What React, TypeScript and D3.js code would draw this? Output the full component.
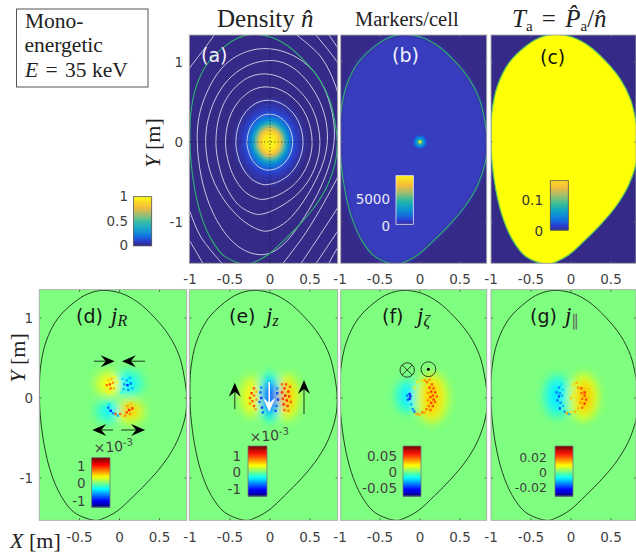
import React from "react";
import * as d3 from "d3";

// ---------- data (metres / normalised values) ----------
const separatrix: number[][] = [
  [-0.2125, 1.345], [0.017, 1.31], [0.225, 1.2], [0.433, 1.01], [0.62, 0.78], [0.745, 0.53], [0.81, 0.26], [0.84, 0],
  [0.82, -0.24], [0.72, -0.54], [0.565, -0.8], [0.39, -1.01], [0.183, -1.22], [-0.025, -1.41], [-0.19, -1.5], [-0.296, -1.53],
  [-0.566, -1.43], [-0.733, -1.22], [-0.858, -0.93], [-0.94, -0.596], [-0.99, -0.22], [-1.0, 0.03], [-0.99, 0.36],
  [-0.92, 0.7], [-0.775, 0.99], [-0.566, 1.196], [-0.4, 1.3],
];
const innerRingScales = [0.29, 0.43, 0.56, 0.68];
const ring5: number[][] = [
  [0, 1.03], [-0.2375, 0.99], [-0.4875, 0.84], [-0.675, 0.59], [-0.79, 0.27], [-0.815, -0.02], [-0.77, -0.354],
  [-0.62, -0.6875], [-0.3625, -0.99], [-0.1125, -1.12], [0, -1.12], [0.22, -1.01], [0.43, -0.74], [0.625, -0.396],
  [0.73, -0.0625], [0.715, 0.27], [0.6, 0.59], [0.3875, 0.87], [0.18, 1.0],
];
const ring6: number[][] = [
  [0, 1.19], [-0.32, 1.145], [-0.62, 0.95], [-0.81, 0.6], [-0.9, 0.31], [-0.92, 0.02], [-0.875, -0.4375],
  [-0.73, -0.9], [-0.49, -1.26], [-0.2375, -1.41], [0, -1.42], [0.22, -1.25], [0.43, -0.95], [0.65, -0.5625],
  [0.78, -0.1875], [0.82, 0.104], [0.775, 0.4375], [0.625, 0.83], [0.346, 1.08],
];
const outerArcs: number[][][] = [
  [[0.304, 1.36], [0.6375, 1.0625], [0.825, 0.6875], [0.87, 0.48]],
  [[0.554, 1.36], [0.825, 1.02], [0.88, 0.9]],
  [[0.72, 1.36], [0.825, 1.21], [0.88, 1.12]],
  [[0.1375, -1.55], [0.47, -1.1], [0.825, -0.48], [0.88, -0.36]],
  [[0.367, -1.55], [0.6, -1.2], [0.825, -0.854], [0.88, -0.76]],
  [[0.554, -1.55], [0.825, -1.146], [0.88, -1.06]],
  [[0.72, -1.55], [0.825, -1.354], [0.88, -1.28]],
  [[-1.03, -0.8], [-1.008, -0.854], [-0.8625, -1.19], [-0.57, -1.55]],
  [[-1.03, -1.2], [-1.008, -1.23], [-0.82, -1.55]],
  [[-1.03, 0.87], [-1.008, 0.917], [-0.82, 1.167], [-0.68, 1.36]],
];
const densityRadii = [0.46, 0.38, 0.33, 0.285, 0.25, 0.215, 0.185, 0.16, 0.135, 0.105, 0.07];
const densityValues = [0.03, 0.07, 0.12, 0.19, 0.27, 0.4, 0.56, 0.72, 0.85, 0.93, 0.98];
const markerRadii = [0.085, 0.065, 0.048, 0.033, 0.022, 0.012];
const markerValues = [0.06, 0.14, 0.26, 0.42, 0.65, 1];

type Lobe = number[]; // x, y, rx, ry, value
const lobesD: Lobe[] = [
  [-0.12, 0.18, 0.2, 0.17, 0.13], [0.11, 0.19, 0.2, 0.17, -0.13], [-0.12, -0.17, 0.19, 0.15, -0.14], [0.13, -0.17, 0.19, 0.16, 0.16],
  [-0.11, 0.17, 0.12, 0.11, 0.25], [0.1, 0.18, 0.11, 0.11, -0.26], [-0.11, -0.16, 0.11, 0.08, -0.27], [0.13, -0.15, 0.1, 0.09, 0.36],
];
const speckD: number[][] = [
  [-0.14, 0.22, 0.45], [-0.1, 0.24, 0.5], [-0.06, 0.26, 0.35], [-0.16, 0.16, 0.7], [-0.12, 0.17, 0.85], [-0.08, 0.19, 0.6], [-0.11, 0.12, 0.7],
  [-0.07, 0.12, 0.5], [-0.03, 0.2, 0.3], [-0.13, 0.07, 0.35], [0.04, 0.24, -0.4], [0.09, 0.22, -0.55], [0.13, 0.25, -0.5], [0.06, 0.17, -0.6],
  [0.1, 0.16, -0.9], [0.14, 0.18, -0.7], [0.05, 0.11, -0.5], [0.11, 0.1, -0.6], [0.16, 0.12, -0.5], [0.03, 0.07, -0.3], [-0.14, -0.12, -0.75],
  [-0.11, -0.16, -0.95], [-0.08, -0.19, -0.6], [-0.05, -0.2, 0.8], [-0.02, -0.22, -0.5], [0.01, -0.2, 0.7], [0.04, -0.23, 0.4], [-0.13, -0.08, -0.4],
  [0.09, -0.18, 0.8], [0.12, -0.15, 0.9], [0.16, -0.13, 0.85], [0.1, -0.1, 0.55], [0.14, -0.07, 0.45], [0.07, -0.22, 0.6], [0.13, -0.2, 0.6], [0.18, -0.19, 0.4],
];
const lobesE: Lobe[] = [
  [-0.23, 0.02, 0.16, 0.26, 0.15], [0.21, 0.01, 0.17, 0.29, 0.18], [0, 0.01, 0.15, 0.31, -0.2], [-0.22, 0.01, 0.07, 0.17, 0.27],
  [0.2, 0.01, 0.09, 0.2, 0.36], [0, 0.01, 0.09, 0.23, -0.42], [0, 0.01, 0.055, 0.18, -0.68],
];
const speckE: number[][] = [
  [-0.2, 0.12, 0.8], [-0.23, 0.06, 0.85], [-0.2, 0.03, 0.7], [-0.25, 0, 0.8], [-0.22, -0.04, 0.75], [-0.25, -0.07, 0.6], [-0.2, -0.1, 0.8], [-0.17, 0.08, 0.5],
  [-0.17, -0.02, 0.6], [-0.18, -0.14, 0.55], [-0.12, 0.07, -0.75], [-0.11, 0, -0.85], [-0.13, -0.05, -0.7], [-0.1, -0.12, -0.85], [-0.09, -0.18, -0.7],
  [0.09, 0.06, -0.8], [0.1, -0.02, -0.85], [0.08, -0.1, -0.7], [0.07, -0.16, -0.75], [-0.11, 0.13, -0.6], [0.09, 0.12, -0.6], [0.15, 0.17, 0.7], [0.2, 0.17, 0.8],
  [0.25, 0.14, 0.75], [0.18, 0.12, 0.85], [0.23, 0.08, 0.9], [0.15, 0.07, 0.9], [0.19, 0.03, 1], [0.24, 0.02, 0.85], [0.16, -0.01, 0.85], [0.21, -0.03, 0.9],
  [0.26, -0.05, 0.75], [0.17, -0.08, 0.9], [0.22, -0.1, 0.85], [0.18, -0.15, 0.75], [0.23, -0.16, 0.65],
];
const lobesF: Lobe[] = [
  [-0.15, 0.02, 0.17, 0.22, -0.14], [0.15, 0, 0.21, 0.32, 0.17], [-0.15, 0.02, 0.09, 0.15, -0.28], [0.15, 0, 0.11, 0.25, 0.33],
];
const speckF: number[][] = [
  [-0.13, 0.05, -1], [-0.12, 0.02, -1], [-0.13, -0.01, -1], [-0.15, -0.02, -0.8], [-0.16, 0.03, -0.7], [-0.11, -0.08, -0.5], [-0.09, -0.14, -0.6], [-0.07, -0.17, -0.7],
  [-0.03, -0.2, 0.6], [0, -0.21, 0.5], [-0.05, -0.2, 0.5], [0.03, -0.18, 0.7], [0.06, 0.22, 0.6], [0.09, 0.2, 0.7], [0.12, 0.23, 0.6], [0.15, 0.17, 0.75],
  [0.12, 0.13, 0.85], [0.17, 0.12, 0.8], [0.14, 0.08, 0.85], [0.19, 0.07, 0.85], [0.16, 0.03, 0.8], [0.21, 0.02, 0.75], [0.13, 0.01, 0.8], [0.17, -0.02, 0.85],
  [0.14, -0.06, 0.85], [0.19, -0.05, 0.75], [0.11, -0.1, 0.7], [0.16, -0.1, 0.8], [0.08, -0.14, 0.7], [0.13, -0.15, 0.75], [0.06, -0.18, 0.55], [0.1, 0.06, 0.6],
  [0.1, -0.03, 0.6], [-0.07, 0.13, 0.35], [-0.03, 0.2, 0.35], [0.02, 0.22, 0.4],
];
const lobesG: Lobe[] = [
  [-0.17, 0.02, 0.18, 0.28, -0.15], [0.16, 0.01, 0.19, 0.3, 0.18], [-0.18, 0.03, 0.1, 0.18, -0.28], [0.17, 0.01, 0.1, 0.19, 0.36],
];
const speckG: number[][] = [
  [-0.15, 0.13, -0.6], [-0.12, 0.17, -0.4], [-0.18, 0.07, -0.7], [-0.14, 0.06, -0.6], [-0.15, 0.02, -0.8], [-0.11, 0.03, -0.5], [-0.17, -0.03, -0.7], [-0.13, -0.06, -0.6],
  [-0.14, -0.13, -0.8], [-0.1, -0.1, -0.5], [-0.1, 0.1, -0.4], [-0.08, -0.17, -0.6], [-0.05, -0.19, 0.6], [-0.02, -0.2, -0.5], [0, -0.18, 0.4], [0.03, 0.17, 0.4],
  [0.07, 0.19, 0.5], [0.09, 0.13, 0.6], [0.13, 0.12, 0.8], [0.17, 0.07, 0.85], [0.13, 0.06, 0.7], [0.17, 0.03, 0.8], [0.19, -0.02, 0.8], [0.14, -0.01, 0.7],
  [0.17, -0.07, 0.85], [0.12, -0.06, 0.6], [0.14, -0.12, 0.7], [0.09, -0.13, 0.5], [0.05, -0.17, 0.5], [0, 0, 0.45], [0.03, 0.03, 0.35],
];
const arrowsD: number[][] = [
  [-0.32, 0.46, -0.06, 0.46], [0.32, 0.46, 0.03, 0.46], [-0.08, -0.4, -0.34, -0.4], [0.02, -0.4, 0.32, -0.4],
];
const arrowsE: number[][] = [
  [-0.44, -0.14, -0.44, 0.19], [0.425, -0.2, 0.425, 0.225],
];
const arrowWhiteE: number[][] = [[-0.01, 0.2, -0.01, -0.175]];

const xTicks = [-1, -0.5, 0, 0.5];
const yTicks = [1, 0, -1];
const parulaColors = ["#352a87", "#2b3fd0", "#1172e0", "#0f92d2", "#11abc0", "#2fb8a0", "#79bf7c", "#c0bc60", "#f5bd3a", "#fcd52a", "#f9fb15"];
const jetColors = ["#00007f", "#0000ff", "#007fff", "#00ffff", "#7fff7f", "#ffff00", "#ff7f00", "#ff0000", "#7f0000"];

// ---------- scales ----------
const pxPerUnit = 80;
const parula = d3.scaleLinear<string>()
  .domain(parulaColors.map((_, i) => i / (parulaColors.length - 1))).range(parulaColors).interpolate(d3.interpolateRgb).clamp(true);
const jet = d3.scaleLinear<string>()
  .domain(jetColors.map((_, i) => -1 + (2 * i) / (jetColors.length - 1))).range(jetColors).interpolate(d3.interpolateRgb).clamp(true);

type Box = { id: string; l: number; r: number; t: number; b: number; cx: number; cy: number };
const mk = (id: string, l: number, r: number, t: number, b: number, cx: number, cy: number): Box => ({ id, l, r, t, b, cx, cy });
const scales = (p: Box) => ({
  x: d3.scaleLinear().domain([(p.l - p.cx) / pxPerUnit, (p.r - p.cx) / pxPerUnit]).range([p.l, p.r]),
  y: d3.scaleLinear().domain([(p.cy - p.t) / pxPerUnit, (p.cy - p.b) / pxPerUnit]).range([p.t, p.b]),
});
const A = mk("a", 189.3, 337.7, 35, 263.3, 270, 142);
const B = mk("b", 340.7, 486.7, 35, 263.3, 420, 142);
const C = mk("c", 491, 636, 35, 263.3, 571, 142);
const D = mk("d", 39.3, 186.7, 289.7, 520.3, 119.5, 398);
const E = mk("e", 189.3, 337.7, 289.7, 520.3, 270, 398);
const F = mk("f", 340.7, 486.7, 289.7, 520.3, 420, 398);
const G = mk("g", 491, 636, 289.7, 520.3, 571, 398);

const closedLine = (p: Box) => {
  const s = scales(p);
  return d3.line<number[]>().x((d) => s.x(d[0])).y((d) => s.y(d[1])).curve(d3.curveCatmullRomClosed.alpha(0.5));
};
const smoothLine = (p: Box) => {
  const s = scales(p);
  return d3.line<number[]>().x((d) => s.x(d[0])).y((d) => s.y(d[1])).curve(d3.curveBasisClosed);
};
const openLine = (p: Box) => {
  const s = scales(p);
  return d3.line<number[]>().x((d) => s.x(d[0])).y((d) => s.y(d[1])).curve(d3.curveCatmullRom.alpha(0.5));
};
const ringFromScale = (k: number) =>
  separatrix.map(([x, y]) => {
    const th = Math.atan2(y, x);
    const er = 1 / Math.hypot(Math.cos(th), Math.sin(th) / 1.2);
    const e = [er * Math.cos(th), er * Math.sin(th)];
    const w = k * k;
    return [k * (w * x + (1 - w) * e[0]), k * (w * y + (1 - w) * e[1])];
  });

const tickFill = "#3f3f3f";
const SANS = "'DejaVu Sans', sans-serif";
const SERIF = "'Liberation Serif', serif";

function Frame({ p, tickColor = "#222" }: { p: Box; tickColor?: string }) {
  const s = scales(p);
  return (
    <g stroke={tickColor} strokeWidth={0.7}>
      {xTicks.filter((v) => s.x(v) > p.l + 2).map((v) => (
        <g key={v}>
          <line x1={s.x(v)} x2={s.x(v)} y1={p.t} y2={p.t + 2} />
          <line x1={s.x(v)} x2={s.x(v)} y1={p.b} y2={p.b - 2} />
        </g>
      ))}
      {yTicks.map((v) => (
        <g key={v}>
          <line x1={p.l} x2={p.l + 2} y1={s.y(v)} y2={s.y(v)} />
          <line x1={p.r} x2={p.r - 2} y1={s.y(v)} y2={s.y(v)} />
        </g>
      ))}
      <rect x={p.l} y={p.t} width={p.r - p.l} height={p.b - p.t} fill="none" stroke="#a9a9a9" strokeWidth={0.9} />
    </g>
  );
}

function XLabels({ p, vals, y }: { p: Box; vals: number[]; y: number }) {
  const s = scales(p);
  return (
    <g fontFamily={SANS} fontSize={13.5} fill={tickFill} textAnchor="middle">
      {vals.map((v) => (
        <text key={v} x={s.x(v)} y={y}>{String(v)}</text>
      ))}
    </g>
  );
}
function YLabels({ p, x }: { p: Box; x: number }) {
  const s = scales(p);
  return (
    <g fontFamily={SANS} fontSize={13.5} fill={tickFill} textAnchor="end">
      {yTicks.map((v) => (
        <text key={v} x={x} y={s.y(v) + 5}>{String(v)}</text>
      ))}
    </g>
  );
}

function Colorbar({ x0, x1, y0, y1, scale, dom, border, labels, labelX, labelYs, fill, size = 13.5 }: any) {
  const n = 48;
  const stripe = d3.scaleBand<number>().domain(d3.range(n)).range([y1, y0]);
  const val = d3.scaleLinear().domain([0, n - 1]).range(dom);
  return (
    <g>
      {d3.range(n).map((i) => (
        <rect key={i} x={x0} y={stripe(i)!} width={x1 - x0} height={stripe.bandwidth() + 0.5} fill={scale(val(i))} />
      ))}
      <rect x={x0} y={y0} width={x1 - x0} height={y1 - y0} fill="none" stroke={border} strokeWidth={0.8} />
      <g fontFamily={SANS} fontSize={size} fill={fill} textAnchor="end">
        {labels.map((t: string, i: number) => (
          <text key={t} x={labelX} y={labelYs[i] + 5}>{t}</text>
        ))}
      </g>
    </g>
  );
}

function Arrow({ p, a, color }: { p: Box; a: number[]; color: string }) {
  const s = scales(p);
  const x1 = s.x(a[0]), y1 = s.y(a[1]), x2 = s.x(a[2]), y2 = s.y(a[3]);
  const th = Math.atan2(y2 - y1, x2 - x1);
  const len = 14, hw = 6, notch = 9;
  const pt = (f: number, w: number) => [x2 - f * Math.cos(th) - w * Math.sin(th), y2 - f * Math.sin(th) + w * Math.cos(th)].join(",");
  return (
    <g>
      <line x1={x1} y1={y1} x2={x2 - notch * Math.cos(th)} y2={y2 - notch * Math.sin(th)} stroke={color} strokeWidth={color === "#fff" ? 1.6 : 0.8} />
      <polygon points={[pt(0, 0), pt(len, hw), pt(notch, 0), pt(len, -hw)].join(" ")} fill={color} />
    </g>
  );
}

function JetField({ p, lobes, speck }: { p: Box; lobes: Lobe[]; speck: number[][] }) {
  const s = scales(p);
  const sep = closedLine(p)(separatrix)!;
  return (
    <g>
      <rect x={p.l} y={p.t} width={p.r - p.l} height={p.b - p.t} fill={jet(0)} />
      <g clipPath={`url(#clip${p.id})`}>
        <g filter="url(#blurBig)">
          {lobes.map((d, i) => (
            <ellipse key={i} cx={s.x(d[0])} cy={s.y(d[1])} rx={d[2] * pxPerUnit} ry={d[3] * pxPerUnit} fill={jet(d[4])} />
          ))}
        </g>
        <g filter="url(#blurSmall)" opacity={0.85}>
          {speck.map((d, i) => (
            <rect key={i} x={s.x(d[0]) - 1.2} y={s.y(d[1]) - 1.2} width={2.4} height={2.4} fill={jet(d[2] * 0.8)} />
          ))}
        </g>
        <path d={sep} fill="none" stroke="#1a2a1a" strokeWidth={0.9} />
      </g>
      <Frame p={p} />
    </g>
  );
}

const DD = () => (
  <defs>
    {[A, B, C, D, E, F, G].map((p) => (
      <clipPath id={`clip${p.id}`} key={p.id}>
        <rect x={p.l} y={p.t} width={p.r - p.l} height={p.b - p.t} />
      </clipPath>
    ))}
    <filter id="blurBig" x="-30%" y="-30%" width="160%" height="160%"><feGaussianBlur stdDeviation="4.2" /></filter>
    <filter id="blurMid" x="-30%" y="-30%" width="160%" height="160%"><feGaussianBlur stdDeviation="1.6" /></filter>
    <filter id="blurSoft" x="-10%" y="-10%" width="120%" height="120%"><feGaussianBlur stdDeviation="2.5" /></filter>
    <filter id="blurHot" x="-50%" y="-50%" width="200%" height="200%"><feGaussianBlur stdDeviation="0.6" /></filter>
    <filter id="blurSmall" x="-20%" y="-20%" width="140%" height="140%"><feGaussianBlur stdDeviation="0.5" /></filter>
  </defs>
);

function PanelA() {
  const s = scales(A);
  const closed = closedLine(A);
  const smooth = smoothLine(A);
  const open = openLine(A);
  return (
    <g>
      <rect x={A.l} y={A.t} width={A.r - A.l} height={A.b - A.t} fill={parula(0)} />
      <g clipPath="url(#clipa)">
        <g filter="url(#blurMid)">
          {densityRadii.map((r, i) => (
            <ellipse key={i} cx={s.x(0)} cy={s.y(0)} rx={r * pxPerUnit} ry={r * 1.2 * pxPerUnit} fill={parula(densityValues[i])} />
          ))}
        </g>
        <g fill="none" stroke="#cfd0e8" strokeWidth={0.95}>
          {innerRingScales.map((k) => <path key={k} d={smooth(ringFromScale(k))!} />)}
          <path d={smooth(ring5)!} />
          <path d={smooth(ring6)!} />
          {outerArcs.map((a, i) => <path key={i} d={open(a)!} />)}
        </g>
        <path d={closed(separatrix)!} fill="none" stroke="#2eb070" strokeWidth={1.1} />
        <g stroke="#101030" strokeWidth={0.8} strokeDasharray="1 2.4">
          <line x1={s.x(0)} x2={s.x(0)} y1={A.t} y2={A.b} />
          <line x1={A.l} x2={A.r} y1={s.y(0)} y2={s.y(0)} />
        </g>
      </g>
      <Frame p={A} />
      <text x={201} y={62} fontFamily={SANS} fontSize={19} fill="#f2f2fa">(a)</text>
    </g>
  );
}

function PanelB() {
  const s = scales(B);
  return (
    <g>
      <rect x={B.l} y={B.t} width={B.r - B.l} height={B.b - B.t} fill={parula(0)} />
      <g clipPath="url(#clipb)">
        <path d={closedLine(B)(separatrix)!} fill="#393cc0" filter="url(#blurSoft)" />
        <g filter="url(#blurHot)">
          {markerRadii.map((r, i) => (
            <circle key={i} cx={s.x(0)} cy={s.y(0)} r={r * pxPerUnit} fill={parula(0.12 + 0.88 * markerValues[i])} />
          ))}
        </g>
        <path d={closedLine(B)(separatrix)!} fill="none" stroke="#2eb070" strokeWidth={1.1} />
      </g>
      <Frame p={B} tickColor="#778" />
      <text x={392} y={62} fontFamily={SANS} fontSize={19} fill="#f2f2fa">(b)</text>
    </g>
  );
}

function PanelC() {
  return (
    <g>
      <rect x={C.l} y={C.t} width={C.r - C.l} height={C.b - C.t} fill={parula(0)} />
      <g clipPath="url(#clipc)">
        <path d={closedLine(C)(separatrix)!} fill="#ffff05" stroke="#5ecb5a" strokeWidth={1.2} />
      </g>
      <Frame p={C} tickColor="#778" />
      <text x={540} y={64} fontFamily={SANS} fontSize={19} fill="#111">(c)</text>
    </g>
  );
}

export default function App() {
  const serifText = { fontFamily: SERIF, fill: "#222" };
  const sF = scales(F);
  return (
    <svg width={636} height={553} viewBox="0 0 636 553" style={{ position: "absolute", left: 0, top: 0, background: "#fff" }}>
      <DD />
      {/* info box */}
      <rect x={16.5} y={9} width={131.5} height={78} fill="none" stroke="#555" strokeWidth={1} />
      <g {...serifText} fontSize={21.5}>
        <text x={25} y={28}>Mono-</text>
        <text x={24.5} y={52}>energetic</text>
        <text x={25} y={77}><tspan fontStyle="italic">E</tspan><tspan dx={2}> = </tspan><tspan dx={2}>35 keV</tspan></text>
      </g>
      {/* titles */}
      <g {...serifText}>
        <text x={217} y={27} fontSize={25}>Density <tspan fontStyle="italic">n̂</tspan></text>
        <text x={355} y={26} fontSize={20.5}>Markers/cell</text>
        <text x={512} y={27} fontSize={25}>
          <tspan fontStyle="italic">T</tspan><tspan fontSize={15} dy={4}>a</tspan><tspan dy={-4} dx={3}> = </tspan>
          <tspan dx={3} fontStyle="italic">P̂</tspan><tspan fontSize={15} dy={4}>a</tspan><tspan dy={-4}>/</tspan><tspan fontStyle="italic">n̂</tspan>
        </text>
      </g>
      <PanelA />
      <PanelB />
      <PanelC />
      <JetField p={D} lobes={lobesD} speck={speckD} />
      <JetField p={E} lobes={lobesE} speck={speckE} />
      <JetField p={F} lobes={lobesF} speck={speckF} />
      <JetField p={G} lobes={lobesG} speck={speckG} />

      {arrowsD.map((a, i) => <Arrow key={i} p={D} a={a} color="#000" />)}
      {arrowsE.map((a, i) => <Arrow key={i} p={E} a={a} color="#000" />)}
      {arrowWhiteE.map((a, i) => <Arrow key={i} p={E} a={a} color="#fff" />)}

      {/* f symbols */}
      <g fill="none" stroke="#1c2c1c" strokeWidth={0.9}>
        <circle cx={sF.x(-0.16)} cy={sF.y(0.35)} r={7.2} />
        <line x1={sF.x(-0.16) - 5} y1={sF.y(0.35) - 5} x2={sF.x(-0.16) + 5} y2={sF.y(0.35) + 5} />
        <line x1={sF.x(-0.16) - 5} y1={sF.y(0.35) + 5} x2={sF.x(-0.16) + 5} y2={sF.y(0.35) - 5} />
        <circle cx={sF.x(0.105)} cy={sF.y(0.36)} r={7.4} />
      </g>
      <circle cx={sF.x(0.105)} cy={sF.y(0.36)} r={1.5} fill="#000" />

      {/* panel letters */}
      <g fontFamily={SANS} fontSize={19} fill="#151515">
        <text x={76} y={323}>(d)</text>
        <text x={229} y={323}>(e)</text>
        <text x={382} y={323}>(f)</text>
        <text x={530} y={323}>(g)</text>
      </g>
      <g fontFamily={SERIF} fontStyle="italic" fontSize={23} fill="#151515">
        <text x={111} y={323}>j<tspan fontSize={16} dy={3}>R</tspan></text>
        <text x={266} y={323}>j<tspan fontSize={16} dy={3}>z</tspan></text>
        <text x={417} y={323}>j<tspan fontSize={16} dy={3}>ζ</tspan></text>
        <text x={565} y={323}>j<tspan fontSize={16} dy={3} fontStyle="normal" fill="#666">∥</tspan></text>
      </g>

      {/* colour bars */}
      <Colorbar x0={133.5} x1={151.7} y0={196.7} y1={245.7} scale={parula} dom={[0, 1]} border="#555" labels={["1", "0.5", "0"]} labelX={128} labelYs={[196, 221, 245]} fill={tickFill} />
      <Colorbar x0={396} x1={413.3} y0={175.7} y1={224.3} scale={parula} dom={[0.02, 0.97]} border="#e8e8f0" labels={["5000", "0"]} labelX={390} labelYs={[199, 226]} fill="#e8e8f4" />
      <Colorbar x0={550.3} x1={568.3} y0={180.7} y1={230} scale={parula} dom={[0.02, 0.9]} border="#555" labels={["0.1", "0"]} labelX={543} labelYs={[200, 231]} fill="#333" />
      <Colorbar x0={91.7} x1={110} y0={457.7} y1={507} scale={jet} dom={[-1, 1]} border="#777" labels={["1", "0", "-1"]} labelX={85.7} labelYs={[466, 483, 501]} fill={tickFill} />
      <Colorbar x0={248} x1={267} y0={446} y1={496} scale={jet} dom={[-1, 1]} border="#777" labels={["1", "0", "-1"]} labelX={241} labelYs={[456, 472, 489]} fill={tickFill} />
      <Colorbar x0={403} x1={421} y0={446} y1={496} scale={jet} dom={[-1, 1]} border="#777" labels={["0.05", "0", "-0.05"]} labelX={397} labelYs={[456, 472, 488]} fill={tickFill} />
      <Colorbar x0={555} x1={573} y0={446} y1={496} scale={jet} dom={[-1, 1]} border="#777" labels={["0.02", "0", "-0.02"]} labelX={547} labelYs={[457, 472, 487]} fill={tickFill} size={12.5} />
      <g fontFamily={SANS} fill={tickFill} fontSize={14}>
        <text x={94} y={453} transform="rotate(-4 94 453)">×10<tspan fontSize={10} dy={-5}>-3</tspan></text>
        <text x={250} y={442} transform="rotate(-4 250 442)">×10<tspan fontSize={10} dy={-5}>-3</tspan></text>
      </g>

      {/* tick labels */}
      <YLabels p={A} x={183} />
      <YLabels p={D} x={33} />
      <XLabels p={A} vals={xTicks} y={284} />
      <XLabels p={B} vals={xTicks} y={284} />
      <XLabels p={C} vals={xTicks} y={284} />
      <XLabels p={D} vals={[-0.5, 0, 0.5]} y={542} />
      <XLabels p={E} vals={xTicks} y={542} />
      <XLabels p={F} vals={xTicks} y={542} />
      <XLabels p={G} vals={xTicks} y={542} />

      {/* axis labels */}
      <g {...serifText} fontSize={22}>
        <text transform="translate(160,143) rotate(-90)" textAnchor="middle"><tspan fontStyle="italic">Y</tspan> [m]</text>
        <text transform="translate(25,358) rotate(-90)" textAnchor="middle"><tspan fontStyle="italic">Y</tspan> [m]</text>
        <text x={10} y={548}><tspan fontStyle="italic">X</tspan> [m]</text>
      </g>
    </svg>
  );
}
